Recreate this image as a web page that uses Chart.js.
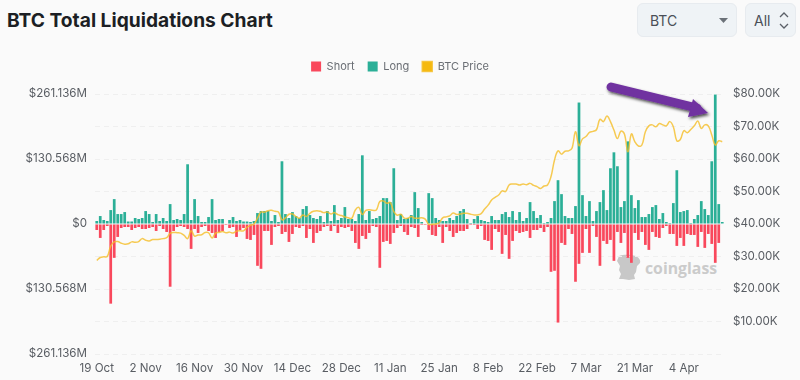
<!DOCTYPE html>
<html>
<head>
<meta charset="utf-8">
<title>BTC Total Liquidations Chart</title>
<script src="https://cdn.jsdelivr.net/npm/chart.js@4"></script>
<style>
  html, body { margin: 0; padding: 0; background: #fafafa; }
  body { width: 800px; height: 380px; position: relative; overflow: hidden; font-family: Inter, "Noto Sans", sans-serif; }
  h1 { position: absolute; left: 7px; top: 6px; margin: 0; font-size: 19.2px; line-height: 28px; font-weight: 700; color: #1c1f24; }
  .select { position: absolute; top: 3px; height: 34px; box-sizing: border-box; background: #eff3f6; border: 1px solid #e7ebef; border-radius: 6px; color: #4a4f57; font-size: 14px; line-height: 33px; }
  #coin { left: 637px; width: 100px; padding-left: 12px; }
  #range { left: 745px; width: 51px; padding-left: 8px; }
  .select svg { position: absolute; }
  #mark { position: absolute; left: 645px; top: 257px; font: 700 15.8px/22px "Open Sans", sans-serif; color: #cbcbcb; }
  canvas { position: absolute; left: 0; top: 0; }
  .over { position: absolute; left: 0; top: 0; pointer-events: none; }
</style>
</head>
<body>
<h1>BTC Total Liquidations Chart</h1>
<div class="select" id="coin">BTC
  <svg style="left:80px;top:13px" width="12" height="8"><path d="M1 1h9L5.500 6z" fill="#6b7178"/></svg>
</div>
<div class="select" id="range">All
  <svg style="left:32px;top:8px" width="12" height="18"><path d="M2 5l4-4 4 4M2 12l4 4 4-4" fill="none" stroke="#5b6068" stroke-width="1.300"/></svg>
</div>
<svg class="over" width="800" height="380">
  <path d="M619 256c6-2 11-1 17 0 3 2 5 4 4 7l-3 3-1 6-2 3 1 4-6 1-6-1-4 0 2-5-2-4 1-4-3-5z" fill="#c8c8c8"/>
</svg>
<div id="mark">coinglass</div>
<canvas id="liqChart" width="800" height="380"></canvas>
<svg class="over" width="800" height="380">
  <defs><filter id="shade" x="-10%" y="-30%" width="120%" height="170%"><feDropShadow dx="1.500" dy="2" stdDeviation="1.500" flood-color="#000" flood-opacity="0.7"/></filter></defs>
  <g filter="url(#shade)" fill="#7030a0">
    <path d="M611 87L697 108" stroke="#7030a0" stroke-width="9" stroke-linecap="round"/>
    <path d="M693 99L708 113L688 117z"/>
  </g>
</svg>
<script>
const startDay = new Date(2023, 9, 19);
const dayCount = 180;
const monthNames = ['Jan', 'Feb', 'Mar', 'Apr', 'May', 'Jun', 'Jul', 'Aug', 'Sep', 'Oct', 'Nov', 'Dec'];
const seriesNames = ['Short', 'Long', 'BTC Price'];

// liquidations in $M
const longValues = [
  6, 16, 8, 6, 28, 50, 20, 20, 24, 5,
  5, 12, 10, 12, 26, 20, 4, 20, 6, 12,
  6, 40, 8, 10, 8, 20, 120, 8, 50, 16,
  4, 4, 14, 50, 8, 10, 10, 1, 8, 14,
  6, 8, 5, 5, 4, 6, 22, 26, 26, 26,
  6, 18, 4, 126, 20, 12, 24, 16, 12, 30,
  36, 18, 12, 10, 16, 4, 26, 6, 38, 8,
  12, 34, 10, 10, 6, 20, 138, 8, 26, 10,
  12, 16, 52, 52, 44, 112, 8, 20, 10, 12,
  18, 64, 32, 4, 1, 62, 52, 12, 8, 6,
  6, 12, 8, 16, 26, 30, 10, 2, 10, 16,
  8, 6, 4, 16, 8, 8, 20, 24, 14, 26,
  8, 24, 6, 12, 44, 26, 12, 18, 2, 4,
  12, 46, 88, 60, 16, 12, 12, 36, 244, 58,
  16, 46, 6, 26, 44, 68, 28, 112, 144, 116,
  34, 46, 166, 58, 32, 48, 14, 14, 20, 34,
  38, 10, 22, 4, 2, 42, 108, 24, 26, 28,
  2, 10, 18, 46, 30, 18, 126, 260, 40, 4
];
const shortValues = [
  -12, -28, -12, -4, -160, -68, -26, -8, -6, -6,
  -12, -8, -6, -10, -10, -8, -6, -14, -4, -10,
  -16, -126, -14, -6, -4, -6, -10, -50, -10, -18,
  -6, -4, -14, -18, -28, -16, -14, -2, -8, -6,
  -26, -12, -8, -30, -32, -22, -84, -90, -14, -14,
  -42, -6, -4, -20, -16, -36, -20, -6, -8, -4,
  -28, -10, -38, -18, -14, -6, -4, -14, -4, -18,
  -6, -8, -6, -14, -38, -50, -24, -30, -18, -4,
  -6, -88, -36, -34, -40, -18, -8, -4, -16, -22,
  -6, -8, -26, -2, -2, -12, -22, -24, -6, -38,
  -6, -14, -26, -18, -14, -14, -10, -2, -2, -10,
  -4, -32, -34, -52, -10, -16, -60, -22, -70, -34,
  -14, -18, -16, -14, -28, -12, -12, -8, -16, -6,
  -96, -94, -198, -38, -42, -10, -20, -116, -80, -58,
  -10, -58, -4, -26, -84, -34, -40, -32, -74, -16,
  -38, -18, -68, -78, -18, -32, -16, -42, -52, -16,
  -26, -28, -8, -4, -20, -20, -44, -28, -44, -20,
  -22, -22, -46, -16, -48, -20, -40, -78, -38, -1
];
// BTC price in $K
const priceValues = [
  28.8, 29.7, 29.9, 30.0, 33.2, 34.5, 34.6, 34.1, 33.8, 33.9,
  34.5, 34.4, 34.6, 35.5, 35.0, 34.8, 35.2, 35.2, 35.3, 35.5,
  35.8, 37.1, 37.4, 37.3, 37.2, 36.5, 35.5, 37.9, 36.3, 36.6,
  36.7, 37.4, 37.3, 35.7, 37.2, 37.4, 37.7, 37.3, 37.5, 37.2,
  37.8, 37.9, 37.9, 39.0, 39.6, 40.0, 41.8, 43.7, 43.6, 44.1,
  44.2, 43.9, 43.7, 41.3, 41.9, 43.0, 43.1, 42.3, 41.8, 42.8,
  42.3, 43.3, 43.9, 44.1, 43.9, 43.5, 43.7, 43.1, 43.5, 42.9,
  42.6, 42.2, 41.9, 41.8, 44.3, 45.1, 42.9, 44.2, 44.4, 44.2,
  44.3, 46.9, 47.1, 46.4, 46.6, 43.8, 42.7, 43.0, 41.8, 41.8,
  42.3, 41.8, 41.8, 41.9, 41.5, 39.9, 39.9, 40.0, 40.4, 41.9,
  42.2, 42.5, 43.4, 42.9, 43.1, 43.3, 43.3, 43.0, 42.8, 42.8,
  43.2, 44.6, 45.8, 47.4, 48.2, 48.9, 50.2, 50.0, 52.0, 52.3,
  52.3, 52.0, 52.3, 52.1, 52.5, 51.9, 51.5, 50.9, 51.7, 52.0,
  54.6, 59.7, 62.5, 61.5, 62.4, 62.5, 63.3, 68.4, 64.1, 66.2,
  66.9, 68.2, 68.5, 69.0, 72.2, 71.5, 73.2, 71.5, 68.9, 66.3,
  68.6, 67.7, 62.2, 67.7, 65.3, 64.0, 64.3, 68.4, 70.2, 70.5,
  69.9, 70.9, 70.5, 70.2, 71.5, 69.9, 65.6, 66.0, 68.7, 68.1,
  69.1, 70.2, 71.7, 69.4, 70.5, 70.2, 67.4, 64.3, 65.6, 65.3
];
const leftTicks = [-261.136, -195.852, -130.568, -65.284, 0, 65.284, 130.568, 195.852, 261.136];
const leftLabels = ['$261.136M', '', '$130.568M', '', '$0', '', '$130.568M', '', '$261.136M'];
const rightTicks = [0, 10, 20, 30, 40, 50, 60, 70, 80];

const labels = [];
for (let i = 0; i < dayCount; i++) {
  const d = new Date(startDay.getFullYear(), startDay.getMonth(), startDay.getDate() + i);
  labels.push(d.getDate() + ' ' + monthNames[d.getMonth()]);
}

const textColor = '#595d63';
const tickFont = { family: 'Inter, "Noto Sans", sans-serif', size: 11.6 };
const legendFont = { family: 'Inter, "Noto Sans", sans-serif', size: 11 };

// legend sits in a taller band than it needs, so the plot starts lower
const legendBand = {
  id: 'legendBand',
  beforeInit(chart) {
    const fit = chart.legend.fit;
    chart.legend.fit = function () {
      fit.call(this);
      this.height = 46;
    };
  }
};

new Chart(document.getElementById('liqChart'), {
  type: 'bar',
  data: {
    labels: labels,
    datasets: [
      { label: seriesNames[0], data: shortValues, backgroundColor: '#f9485c', yAxisID: 'y', order: 2, barPercentage: 0.78, categoryPercentage: 1 },
      { label: seriesNames[1], data: longValues, backgroundColor: '#2baf97', yAxisID: 'y', order: 2, barPercentage: 0.78, categoryPercentage: 1 },
      {
        type: 'line', label: seriesNames[2], data: priceValues, yAxisID: 'y1', order: 1,
        borderColor: 'rgba(245, 190, 40, 0.8)', backgroundColor: '#f5b90f',
        borderWidth: 1.5, pointRadius: 0, tension: 0.4
      }
    ]
  },
  plugins: [legendBand],
  options: {
    responsive: false,
    animation: false,
    layout: { padding: { top: 48, left: 0, right: 0, bottom: 0 } },
    plugins: {
      tooltip: { enabled: false },
      legend: {
        position: 'top',
        labels: {
          boxWidth: 10, boxHeight: 10, padding: 13, color: '#6a6e74',
          font: legendFont,
          sort: (a, b) => a.datasetIndex - b.datasetIndex
        }
      }
    },
    scales: {
      x: {
        stacked: true,
        grid: { display: false, drawTicks: false },
        border: { display: false },
        afterFit(scale) { scale.height = 26; },
        ticks: {
          autoSkip: false, maxRotation: 0, minRotation: 0, padding: 8, color: textColor, font: tickFont,
          callback(value, index) { return index % 14 === 0 ? labels[index] : ''; }
        }
      },
      y: {
        stacked: true,
        position: 'left',
        min: -261.136,
        max: 261.136,
        afterFit(scale) { scale.width = 95; },
        afterBuildTicks(scale) { scale.ticks = leftTicks.map(v => ({ value: v })); },
        grid: { color: '#efefef', drawTicks: false },
        border: { display: false, dash: [5, 4] },
        ticks: {
          padding: 8, color: textColor, font: tickFont,
          callback(value, index) { return leftLabels[index]; }
        }
      },
      y1: {
        position: 'right',
        min: 0,
        max: 80,
        afterFit(scale) { scale.width = 76; },
        afterBuildTicks(scale) { scale.ticks = rightTicks.map(v => ({ value: v })); },
        grid: { display: false, drawTicks: false },
        border: { display: false },
        ticks: {
          padding: 9, color: textColor, font: tickFont,
          callback(value) { return value === 0 ? '' : '$' + value.toFixed(2) + 'K'; }
        }
      }
    }
  }
});
</script>
</body>
</html>
